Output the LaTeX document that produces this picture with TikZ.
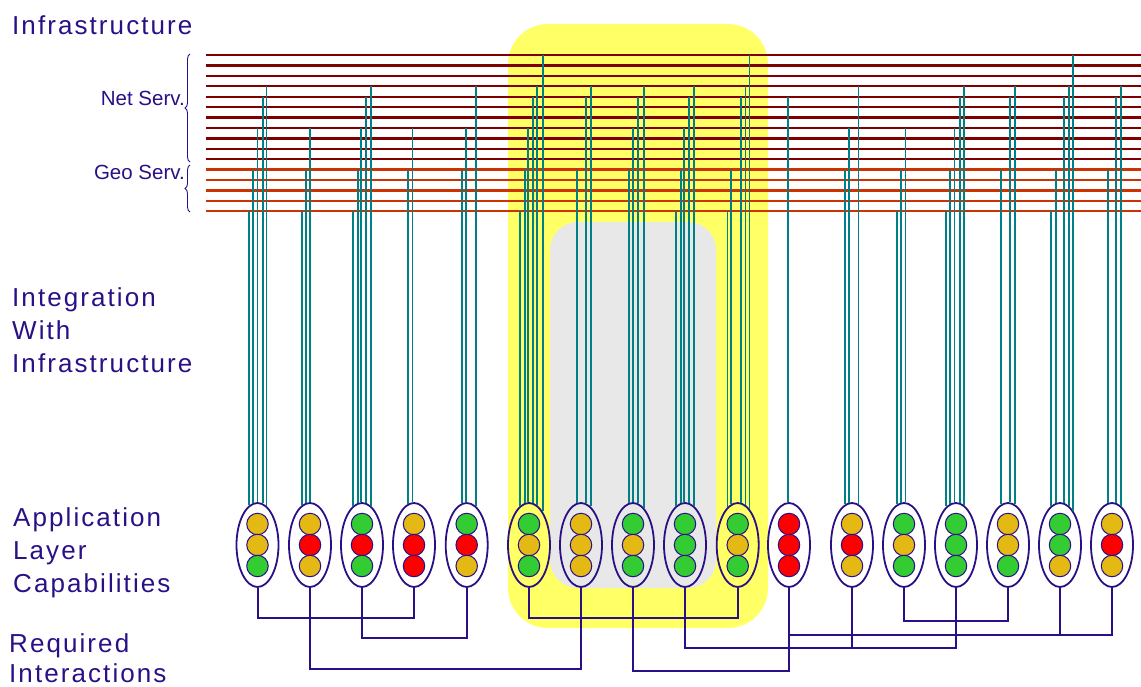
\documentclass[tikz,border=0pt]{standalone}
\usepackage{fontspec}
\setmainfont{Liberation Sans}
\usepackage{tikz}
\usetikzlibrary{shapes.geometric}
\usetikzlibrary{decorations.pathreplacing}
\usepackage{xcolor}
\definecolor{ink}{RGB}{43,15,135}
\definecolor{feedteal}{RGB}{0,128,134}
\definecolor{netred}{RGB}{128,0,0}
\definecolor{geored}{RGB}{204,51,0}
\definecolor{zoneyellow}{RGB}{255,255,102}
\definecolor{zonegray}{RGB}{232,232,232}
\definecolor{lampY}{RGB}{228,185,20}
\definecolor{lampR}{RGB}{255,0,0}
\definecolor{lampG}{RGB}{51,204,51}
\tikzset{
    capab/.style={
        draw=ink,
        ellipse,
        line width=1.8pt,
        minimum width=42pt,
        minimum height=84pt,
        inner sep=0pt
    },
    lamp/.style={
        draw=ink,
        circle,
        line width=1pt,
        minimum size=21.5pt,
        inner sep=0pt
    },
    feed/.style={draw=feedteal, line width=1.9pt},
    netbus/.style={draw=netred, line width=2.3pt},
    geobus/.style={draw=geored, line width=2.3pt},
    link/.style={draw=ink, line width=2pt},
    sidetext/.style={
        text=ink,
        anchor=north west,
        align=left,
        inner sep=0pt,
        font=\addfontfeature{LetterSpace=8}\fontsize{26}{33}\selectfont
    },
    servtext/.style={
        text=ink,
        anchor=base east,
        inner sep=0pt,
        font=\fontsize{20.5}{24}\selectfont
    },
    servbrace/.style={
        draw=ink,
        line width=0.9pt,
        decorate,
        decoration={brace, amplitude=5pt}
    }
}

\begin{document}
\begin{tikzpicture}[x=1pt, y=-1pt]
    \useasboundingbox (0,0) rectangle (1141,686);

    % shared zones
    \fill[zoneyellow, rounded corners=40pt] (508,24) rectangle (768,628);
    \fill[zonegray, rounded corners=28pt] (550,222) rectangle (716,588);

    % service buses
    \coordinate (edge) at (1141,0);
    \foreach \i in {0,...,15} {
        \coordinate (bus\i) at (206,{55+10.42*\i});
    }
    \foreach \i in {0,...,10} {
        \draw[netbus] (bus\i) -- (bus\i -| edge);
    }
    \foreach \i in {11,...,15} {
        \draw[geobus] (bus\i) -- (bus\i -| edge);
    }

    % labels
    \node[sidetext] (infra) at (12,15) {Infrastructure};
    \node[sidetext] (integ) at (12,287) {Integration\\With\\Infrastructure};
    \node[sidetext] (applayer) at (13,507) {Application\\Layer\\Capabilities};
    \node[sidetext, font=\addfontfeature{LetterSpace=8}\fontsize{26}{30}\selectfont] (reqint) at (9,633) {Required\\Interactions};
    \node[servtext] (netserv) at (185,105) {Net Serv.};
    \node[servtext] (geoserv) at (185,179) {Geo Serv.};
    \draw[servbrace] (190,162) -- (190,54);
    \draw[servbrace] (190,212) -- (190,165);

    % capabilities
    \foreach \n/\cx/\ca/\cb/\cc in {1/257.5/Y/Y/G, 2/310/Y/R/Y, 3/362/G/R/G, 4/414/Y/R/R,
        5/466.7/G/R/Y, 6/529/G/Y/G, 7/581/Y/Y/Y, 8/633/G/Y/G, 9/685/G/G/G,
        10/737.7/G/Y/G, 11/789/R/R/R, 12/852/Y/R/Y, 13/904/G/Y/G, 14/956/G/G/G,
        15/1008/Y/Y/G, 16/1060/G/G/Y, 17/1112/Y/R/Y} {
        \node[capab] (e\n) at (\cx,545) {};
        \node[lamp, fill=lamp\ca] (e\n top) at (\cx,524) {};
        \node[lamp, fill=lamp\cb] (e\n mid) at (\cx,545) {};
        \node[lamp, fill=lamp\cc] (e\n bot) at (\cx,566) {};
    }

    % feeds up to the buses (offset / bus)
    \foreach \n/\feeds in {
        1/{-8.5/15,-4.8/11,-0.5/7,4.5/4,8.8/3},
        2/{-7.7/15,-4/11,0/7},
        3/{-9/15,-5/11,-1/7,3.7/4,8.7/3},
        4/{-6/11,-2/7},
        5/{-5/11,-1.4/7,8.3/3},
        6/{-9/15,-5/11,-1/7,3.7/4,8/3,13/0},
        7/{-4/11,5/4,9.3/3},
        8/{-4/11,0/7,5/4,10/3},
        9/{-9/15,-4.7/11,-1/7,4/4,8.7/3},
        10/{-10.4/15,-6.7/11,2.3/4,7/3,11.3/0},
        11/{-1/4},
        12/{-7/11,-3/7,6.3/3},
        13/{-7.3/15,-3.3/11,1/7},
        14/{-9.7/15,-5.7/11,-2/7,3/4,7.7/3},
        15/{-7/11,2/4,6.7/3},
        16/{-9/15,-5/11,4/4,8.3/3,12.7/0},
        17/{-4.7/11,4.3/4,8.7/3}} {
        \foreach \d/\k in \feeds {
            \pgfmathsetmacro\ang{atan2(42*sqrt(1-(\d/21)^2),\d)}
            \draw[feed] (e\n.\ang) -- (e\n.\ang |- bus\k);
        }
    }

    % required interactions
    \coordinate (tieA) at (0,618);
    \coordinate (tieB) at (0,621);
    \coordinate (tieC) at (0,635);
    \coordinate (tieD) at (0,638);
    \coordinate (tieE) at (0,648);
    \coordinate (tieF) at (0,669);
    \coordinate (tieG) at (0,671);
    \draw[link] (e1.south) |- (tieA -| e4.south) -- (e4.south);
    \draw[link] (e6.south) |- (tieA -| e10.south) -- (e10.south);
    \draw[link] (e13.south) |- (tieB -| e15.south) -- (e15.south);
    \draw[link] (e11.south) |- (tieC -| e17.south) -- (e17.south);
    \draw[link] (e16.south) -- (tieC -| e16.south);
    \draw[link] (e3.south) |- (tieD -| e5.south) -- (e5.south);
    \draw[link] (e9.south) |- (tieE -| e14.south) -- (e14.south);
    \draw[link] (e12.south) -- (tieE -| e12.south);
    \draw[link] (e2.south) |- (tieF -| e7.south) -- (e7.south);
    \draw[link] (e8.south) |- (tieG -| e11.south) -- (e11.south);
\end{tikzpicture}
\end{document}
